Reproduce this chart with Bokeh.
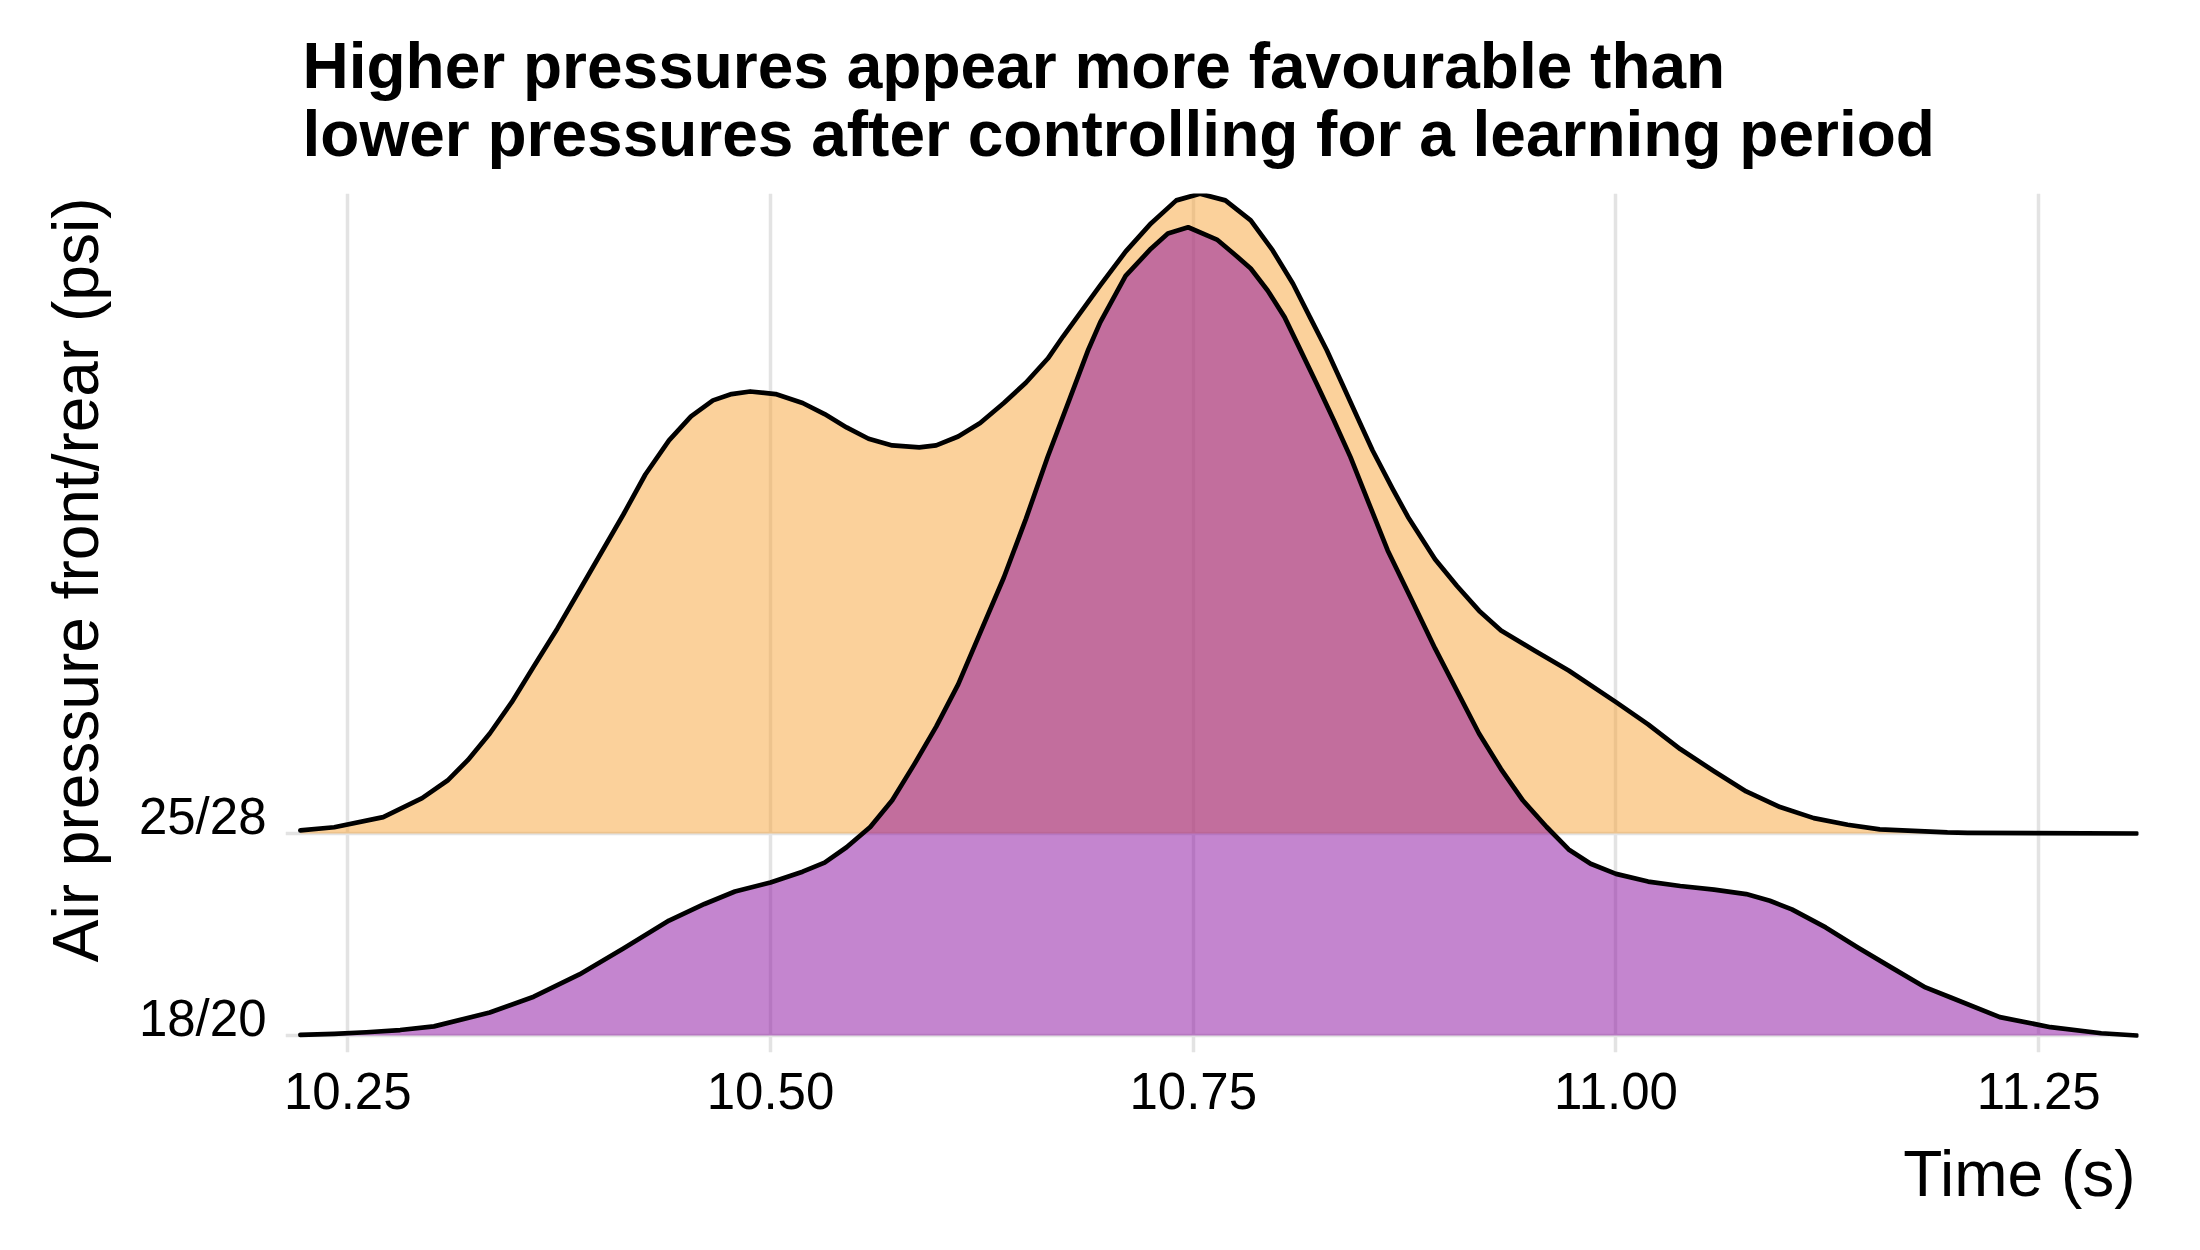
from bokeh.plotting import figure
from bokeh.models import Range1d, FixedTicker, NumeralTickFormatter, Title
from bokeh.embed import file_html
from bokeh.resources import INLINE

# ---- data ----
title_text = ("Higher pressures appear more favourable than\n"
              "lower pressures after controlling for a learning period")
x_title = "Time (s)"
y_title = "Air pressure front/rear (psi)"

categories = ["18/20", "25/28"]
cat_pos = [1, 2]
x_ticks = [10.25, 10.50, 10.75, 11.00, 11.25]

# ridge 25/28 (upper, orange): time and ridge height (in row units)
x_2528 = [10.222, 10.242, 10.271, 10.294, 10.309, 10.321, 10.334, 10.347, 10.360,
          10.374, 10.387, 10.400, 10.413, 10.426, 10.440, 10.453, 10.466, 10.477,
          10.488, 10.503, 10.519, 10.532, 10.545, 10.558, 10.572, 10.588, 10.598,
          10.611, 10.624, 10.638, 10.651, 10.664, 10.673, 10.695, 10.710, 10.725,
          10.740, 10.754, 10.769, 10.784, 10.797, 10.809, 10.819, 10.829, 10.838,
          10.847, 10.856, 10.868, 10.877, 10.893, 10.906, 10.919, 10.932, 10.952,
          10.972, 11.000, 11.019, 11.038, 11.058, 11.077, 11.097, 11.117, 11.137,
          11.156, 11.196, 11.208, 11.308]
h_2528 = [0.015, 0.031, 0.081, 0.175, 0.262, 0.363, 0.495, 0.650, 0.827,
          1.015, 1.203, 1.391, 1.579, 1.777, 1.946, 2.065, 2.144, 2.175,
          2.188, 2.175, 2.131, 2.076, 2.010, 1.954, 1.921, 1.911, 1.921,
          1.965, 2.032, 2.131, 2.231, 2.351, 2.460, 2.713, 2.880, 3.020,
          3.134, 3.167, 3.134, 3.035, 2.886, 2.721, 2.556, 2.392, 2.227,
          2.062, 1.897, 1.705, 1.567, 1.358, 1.225, 1.103, 1.005, 0.904,
          0.807, 0.650, 0.540, 0.418, 0.308, 0.208, 0.131, 0.076, 0.043,
          0.020, 0.005, 0.003, 0.000]

# ridge 18/20 (lower, purple)
x_1820 = [10.222, 10.242, 10.261, 10.281, 10.301, 10.334, 10.360, 10.387, 10.413,
          10.440, 10.461, 10.479, 10.500, 10.519, 10.532, 10.545, 10.559, 10.572,
          10.585, 10.598, 10.611, 10.624, 10.638, 10.651, 10.664, 10.677, 10.688,
          10.695, 10.710, 10.725, 10.735, 10.747, 10.764, 10.774, 10.784, 10.794,
          10.804, 10.813, 10.823, 10.833, 10.843, 10.854, 10.865, 10.879, 10.893,
          10.919, 10.932, 10.945, 10.959, 10.972, 10.985, 11.000, 11.019, 11.038,
          11.058, 11.077, 11.091, 11.104, 11.124, 11.143, 11.163, 11.183, 11.198,
          11.227, 11.257, 11.287, 11.308]
h_1820 = [0.003, 0.008, 0.016, 0.027, 0.045, 0.114, 0.192, 0.302, 0.431,
          0.569, 0.651, 0.713, 0.757, 0.811, 0.856, 0.932, 1.032, 1.164,
          1.342, 1.529, 1.738, 1.993, 2.267, 2.556, 2.866, 3.153, 3.396,
          3.530, 3.760, 3.895, 3.970, 4.001, 3.940, 3.870, 3.797, 3.688,
          3.556, 3.400, 3.226, 3.048, 2.863, 2.632, 2.401, 2.159, 1.916,
          1.495, 1.319, 1.163, 1.032, 0.921, 0.850, 0.800, 0.762, 0.740,
          0.722, 0.700, 0.667, 0.624, 0.535, 0.436, 0.336, 0.238, 0.188,
          0.091, 0.041, 0.011, 0.000]

fill_colors = {"25/28": "#F7A337", "18/20": "#890B9F"}

FONT = "Liberation Sans"

p = figure(width=2184, height=1234,
           x_range=Range1d(10.2132, 11.309), y_range=Range1d(0.9158, 5.168),
           output_backend="svg", toolbar_location=None,
           min_border_left=285, min_border_right=46,
           min_border_top=193, min_border_bottom=182)
p.outline_line_color = None
p.background_fill_color = "white"
p.border_fill_color = "white"

# title
p.title.text = title_text
p.title.text_font = FONT
p.title.text_font_size = "64px"
p.title.text_font_style = "bold"
p.title.text_color = "black"
p.title.text_line_height = 0.94
p.title.align = "left"
p.title.offset = 17
p.title.standoff = 47

# grids
p.xgrid.ticker = FixedTicker(ticks=x_ticks)
p.ygrid.ticker = FixedTicker(ticks=cat_pos)
for g in (p.xgrid, p.ygrid):
    g.grid_line_color = "#E3E3E3"
    g.grid_line_width = 3.5
p.xgrid.minor_grid_line_color = None
p.ygrid.minor_grid_line_color = None

# x axis
xa = p.xaxis[0]
xa.ticker = FixedTicker(ticks=x_ticks)
xa.formatter = NumeralTickFormatter(format="0.00")
xa.axis_line_color = None
xa.major_tick_line_color = None
xa.minor_tick_line_color = None
xa.major_label_text_font = FONT
xa.major_label_text_font_size = "51px"
xa.major_label_text_color = "black"
xa.major_label_standoff = 14

# y axis: labels sit on top of each ridge baseline
ya = p.yaxis[0]
label_lift = 0.085
ytick_vals = [c + label_lift for c in cat_pos]
ya.ticker = FixedTicker(ticks=ytick_vals)
ya.major_label_overrides = {v: lab for v, lab in zip(ytick_vals, categories)}
ya.axis_line_color = None
ya.major_tick_line_color = None
ya.minor_tick_line_color = None
ya.major_label_text_font = FONT
ya.major_label_text_font_size = "51px"
ya.major_label_text_color = "black"
ya.major_label_standoff = 13

# axis titles, right/top aligned like the reference
xt = Title(text=x_title, align="right", offset=3, standoff=48,
           text_font=FONT, text_font_size="64px", text_font_style="normal",
           text_color="black")
p.add_layout(xt, "below")
yt = Title(text=y_title, align="right", offset=4, standoff=48,
           text_font=FONT, text_font_size="64px", text_font_style="normal",
           text_color="black")
p.add_layout(yt, "left")

# ridges: upper row first, lower row drawn on top
ridges = [("25/28", 2, x_2528, h_2528), ("18/20", 1, x_1820, h_1820)]
for name, base, xs, hs in ridges:
    top = [base + h for h in hs]
    px = list(xs) + [xs[-1], xs[0]]
    py = top + [base, base]
    p.patch(px, py, fill_color=fill_colors[name], fill_alpha=0.5, line_color=None)
    p.line(xs, top, line_color="black", line_width=4.7, line_join="round", line_cap="round")

open("out.html", "w").write(file_html(p, INLINE))
